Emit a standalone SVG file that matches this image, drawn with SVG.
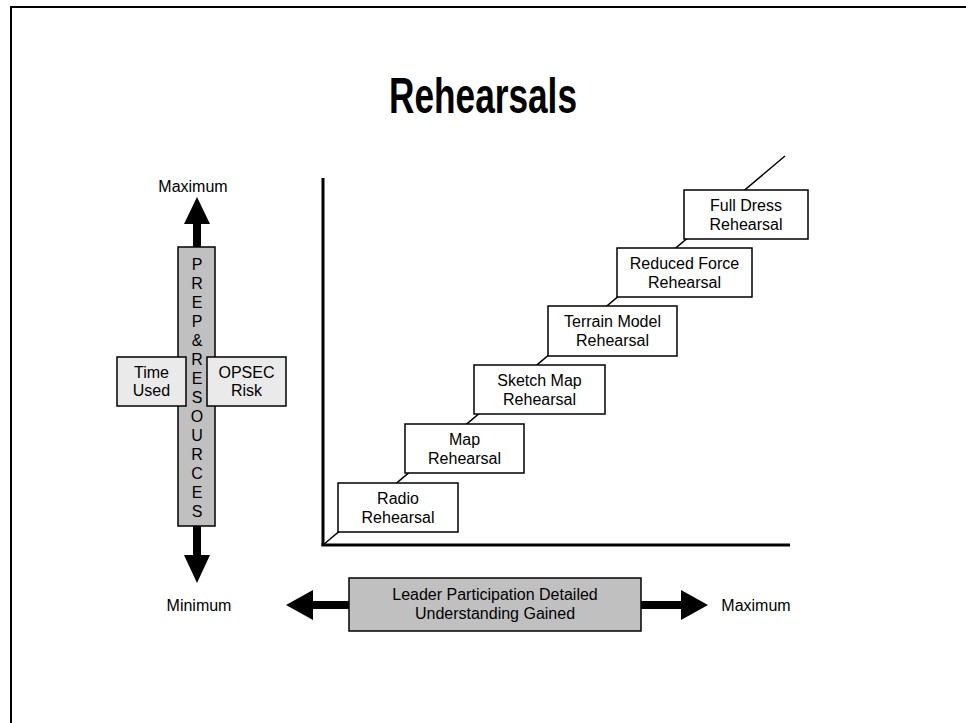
<svg xmlns="http://www.w3.org/2000/svg" width="966" height="723" viewBox="0 0 966 723">
<style>
text{font-family:"Liberation Sans",Arial,sans-serif;fill:#000}
.lbl{font-size:16px;text-anchor:middle}
.box{fill:#fff;stroke:#000;stroke-width:1.5}
.lt{fill:#eaeaea;stroke:#000;stroke-width:1.5}
.gr{fill:#c0c0c0;stroke:#000;stroke-width:1.5}
.ax{stroke:#000;stroke-width:3;fill:none}
.diag{stroke:#000;stroke-width:1.5;fill:none}
.ah{fill:#000}
</style>
<rect x="11" y="7" width="970" height="730" fill="#fff" stroke="#000" stroke-width="2"/>
<text x="483" y="113" font-size="50" font-weight="bold" text-anchor="middle" textLength="188" lengthAdjust="spacingAndGlyphs">Rehearsals</text>

<g id="connectors">
  <line class="ax" x1="323" y1="178" x2="323" y2="546"/>
  <line class="ax" x1="321.5" y1="545" x2="790" y2="545"/>
  <line class="diag" x1="323" y1="545" x2="785" y2="156"/>
  <!-- vertical arrow -->
  <rect class="ah" x="193" y="222" width="8" height="26"/>
  <polygon class="ah" points="197,197 210,224 184,224"/>
  <rect class="ah" x="193" y="524" width="8" height="33"/>
  <polygon class="ah" points="184,555 210,555 197,583"/>
  <!-- horizontal arrow -->
  <rect class="ah" x="311" y="601" width="40" height="8"/>
  <polygon class="ah" points="286,605 313,590 313,620"/>
  <rect class="ah" x="639" y="601" width="43" height="8"/>
  <polygon class="ah" points="708,605 681,590 681,620"/>
</g>

<g id="prep-resources">
  <rect class="gr" x="178" y="247" width="37" height="279"/>
  <g class="lbl">
    <text x="197" y="270">P</text>
    <text x="197" y="289">R</text>
    <text x="197" y="308">E</text>
    <text x="197" y="327">P</text>
    <text x="197" y="346">&amp;</text>
    <text x="197" y="365">R</text>
    <text x="197" y="384">E</text>
    <text x="197" y="403">S</text>
    <text x="197" y="422">O</text>
    <text x="197" y="441">U</text>
    <text x="197" y="460">R</text>
    <text x="197" y="479">C</text>
    <text x="197" y="498">E</text>
    <text x="197" y="517">S</text>
  </g>
</g>
<g id="time-used">
  <rect class="lt" x="117" y="357" width="69" height="49"/>
  <text class="lbl" x="151.5" y="378">Time</text>
  <text class="lbl" x="151.5" y="396">Used</text>
</g>
<g id="opsec-risk">
  <rect class="lt" x="207" y="357" width="79" height="49"/>
  <text class="lbl" x="246.5" y="378">OPSEC</text>
  <text class="lbl" x="246.5" y="396">Risk</text>
</g>
<g id="max-top"><text class="lbl" x="193" y="192">Maximum</text></g>
<g id="min-left"><text class="lbl" x="199" y="611">Minimum</text></g>
<g id="max-right"><text class="lbl" x="756" y="611">Maximum</text></g>

<g id="leader">
  <rect class="gr" x="349" y="578" width="292" height="53"/>
  <text class="lbl" x="495" y="600">Leader Participation Detailed</text>
  <text class="lbl" x="495" y="619">Understanding Gained</text>
</g>

<g id="radio">
  <rect class="box" x="338" y="483" width="120" height="49"/>
  <text class="lbl" x="398" y="504">Radio</text>
  <text class="lbl" x="398" y="523">Rehearsal</text>
</g>
<g id="map">
  <rect class="box" x="405" y="424" width="119" height="49"/>
  <text class="lbl" x="464.5" y="445">Map</text>
  <text class="lbl" x="464.5" y="464">Rehearsal</text>
</g>
<g id="sketch-map">
  <rect class="box" x="474" y="365" width="131" height="49"/>
  <text class="lbl" x="539.5" y="386">Sketch Map</text>
  <text class="lbl" x="539.5" y="405">Rehearsal</text>
</g>
<g id="terrain-model">
  <rect class="box" x="548" y="306" width="129" height="50"/>
  <text class="lbl" x="612.5" y="327">Terrain Model</text>
  <text class="lbl" x="612.5" y="346">Rehearsal</text>
</g>
<g id="reduced-force">
  <rect class="box" x="617" y="248" width="135" height="49"/>
  <text class="lbl" x="684.5" y="269">Reduced Force</text>
  <text class="lbl" x="684.5" y="288">Rehearsal</text>
</g>
<g id="full-dress">
  <rect class="box" x="684" y="190" width="124" height="49"/>
  <text class="lbl" x="746" y="211">Full Dress</text>
  <text class="lbl" x="746" y="230">Rehearsal</text>
</g>
</svg>
